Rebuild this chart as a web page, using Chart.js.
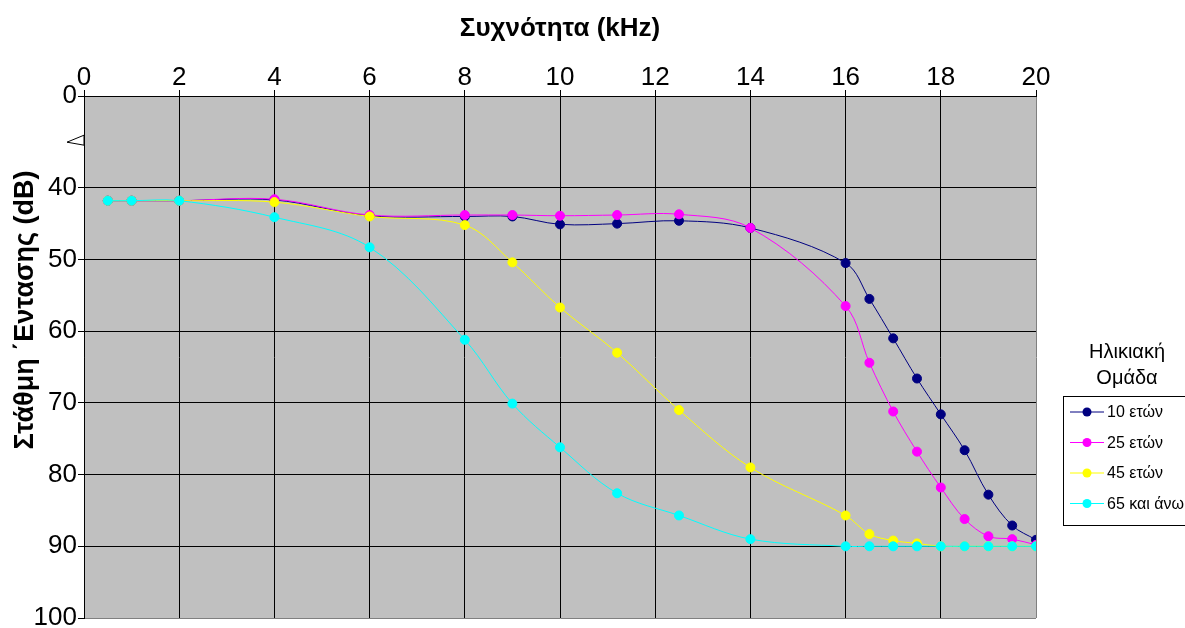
<!DOCTYPE html>
<html lang="el">
<head>
<meta charset="utf-8">
<title>Στάθμη Έντασης ανά Συχνότητα</title>
<script src="https://cdn.jsdelivr.net/npm/chart.js@4.4.1/dist/chart.umd.min.js"></script>
<style>
  html, body { margin: 0; padding: 0; background: #fff; }
  #wrap { width: 1185px; height: 628px; }
</style>
</head>
<body>
<div id="wrap"><canvas id="hearing" width="1185" height="628"></canvas></div>
<script>
// test frequencies (kHz)
const freqs = [0.5, 1, 2, 4, 6, 8, 9, 10, 11.2, 12.5, 14, 16, 16.5, 17, 17.5, 18, 18.5, 19, 19.5, 20];

// hearing threshold level (dB) for each age group
const age10 = [41.8, 41.8, 41.8, 41.7, 43.9, 44.0, 44.0, 45.1, 45.0, 44.6, 45.6, 50.5, 55.5, 61.0, 66.6, 71.6, 76.6, 82.8, 87.1, 89.1];
const age25 = [41.8, 41.8, 41.8, 41.6, 43.8, 43.8, 43.8, 43.9, 43.8, 43.7, 45.6, 56.5, 64.4, 71.2, 76.8, 81.8, 86.2, 88.6, 89.0, 89.8];
const age45 = [41.8, 41.8, 41.8, 42.0, 44.0, 45.2, 50.4, 56.7, 63.0, 71.0, 79.0, 85.7, 88.3, 89.2, 89.6, 90, 90, 90, 90, 90];
const age65 = [41.8, 41.8, 41.8, 44.1, 48.3, 61.2, 70.1, 76.2, 82.6, 85.7, 89.0, 90, 90, 90, 90, 90, 90, 90, 90, 90];

const groupNames = ['10 ετών', '25 ετών', '45 ετών', '65 και άνω'];
const groupColors = ['#000080', '#FF00FF', '#FFFF00', '#00FFFF'];

// axis ticks; the y axis is broken between 0 and 40
const yTicks = [0, 40, 50, 60, 70, 80, 90, 100];
const yBreakTop = 27.2;   // where the "0" tick is placed above the break

const FONT = "'Liberation Sans', Arial, sans-serif";

const series = [age10, age25, age45, age65];
const datasets = series.map((vals, i) => ({
  label: groupNames[i],
  data: freqs.map((f, j) => ({ x: f, y: vals[j] })),
  borderColor: groupColors[i],
  backgroundColor: groupColors[i],
  pointBackgroundColor: groupColors[i],
  pointBorderColor: groupColors[i],
  borderWidth: 1,
  pointRadius: 4.5,
  pointBorderWidth: 1,
  tension: 0.35,
  order: series.length - i   // older groups drawn on top
}));

// gray plot area, axis break mark, y title and the legend box
const decorations = {
  id: 'decorations',
  beforeDraw(chart) {
    const a = chart.chartArea;
    const ctx = chart.ctx;
    ctx.save();
    ctx.fillStyle = '#C0C0C0';
    ctx.fillRect(a.left, a.top, a.right - a.left, a.bottom - a.top);
    ctx.restore();
  },
  afterDraw(chart) {
    const a = chart.chartArea;
    const ctx = chart.ctx;
    ctx.save();

    // break mark on the y axis
    const by = chart.scales.y.getPixelForValue(33.5);
    ctx.beginPath();
    ctx.moveTo(a.left, by - 6);
    ctx.lineTo(a.left - 17, by + 1);
    ctx.lineTo(a.left, by + 4);
    ctx.closePath();
    ctx.fillStyle = '#fff';
    ctx.fill();
    ctx.strokeStyle = '#000';
    ctx.lineWidth = 1;
    ctx.stroke();

    // y axis title
    ctx.translate(26, 310);
    ctx.rotate(-Math.PI / 2);
    ctx.font = 'bold 27px ' + FONT;
    ctx.fillStyle = '#000';
    ctx.textAlign = 'center';
    ctx.textBaseline = 'middle';
    ctx.fillText('Στάθμη ΄Εντασης (dB)', 0, 0);
    ctx.setTransform(1, 0, 0, 1, 0, 0);

    // legend
    ctx.font = '20px ' + FONT;
    ctx.textAlign = 'center';
    ctx.fillText('Ηλικιακή', 1127, 352);
    ctx.fillText('Ομάδα', 1127, 378);

    ctx.strokeStyle = '#000';
    ctx.lineWidth = 1;
    ctx.strokeRect(1063.5, 396.5, 140, 129);

    ctx.font = '16px ' + FONT;
    ctx.textAlign = 'left';
    chart.data.datasets.forEach((ds, i) => {
      const y = 412 + i * 30.5;
      ctx.strokeStyle = ds.borderColor;
      ctx.beginPath();
      ctx.moveTo(1070, y);
      ctx.lineTo(1104, y);
      ctx.stroke();
      ctx.fillStyle = ds.borderColor;
      ctx.beginPath();
      ctx.arc(1087, y, 4.5, 0, Math.PI * 2);
      ctx.fill();
      ctx.fillStyle = '#000';
      ctx.fillText(ds.label, 1107, y + 1);
    });
    ctx.restore();
  }
};

new Chart(document.getElementById('hearing'), {
  type: 'line',
  data: { datasets },
  options: {
    responsive: false,
    animation: false,
    layout: { padding: { top: 0, left: 0, right: 149, bottom: 10 } },
    plugins: {
      legend: { display: false },
      tooltip: { enabled: false }
    },
    scales: {
      x: {
        type: 'linear',
        position: 'top',
        min: 0,
        max: 20,
        ticks: {
          stepSize: 2,
          color: '#000',
          font: { family: FONT, size: 26 },
          padding: -3
        },
        grid: {
          color: (c) => (c.tick && c.tick.value === 20 ? '#808080' : '#000'),
          tickColor: '#000',
          tickLength: 6,
          lineWidth: 1
        },
        border: { color: '#000' },
        title: {
          display: true,
          text: 'Συχνότητα (kHz)',
          color: '#000',
          font: { family: FONT, size: 26, weight: 'bold' },
          padding: { top: 13, bottom: 0 }
        },
        afterFit(scale) {
          scale.height = 96;
          scale.paddingLeft = 0;
          scale.paddingRight = 0;
        }
      },
      y: {
        type: 'linear',
        reverse: true,
        min: yBreakTop,
        max: 100,
        afterBuildTicks(scale) {
          scale.ticks = yTicks.map(v => ({ value: v === 0 ? yBreakTop : v }));
        },
        ticks: {
          color: '#000',
          font: { family: FONT, size: 26 },
          padding: 1,
          callback: (v) => (v === yBreakTop ? '0' : String(v))
        },
        grid: {
          color: (c) => (c.tick && c.tick.value === 100 ? '#808080' : '#000'),
          tickColor: '#000',
          tickLength: 6,
          lineWidth: 1
        },
        border: { color: '#000' },
        afterFit(scale) {
          scale.width = 84;
          scale.paddingTop = 0;
          scale.paddingBottom = 0;
        }
      }
    }
  },
  plugins: [decorations]
});
</script>
</body>
</html>
